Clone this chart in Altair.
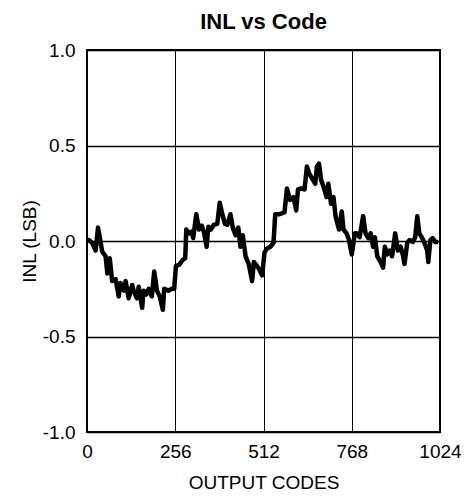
import altair as alt
import pandas as pd

codes = [0, 6, 15, 25, 32, 40, 44, 54, 59, 66, 73, 83, 92, 97, 107, 112, 121, 131, 136, 145,
         150, 160, 164, 172, 179, 188, 195, 203, 211, 220, 224, 236, 246, 253, 258, 267, 277,
         285, 288, 296, 304, 308, 317, 325, 333, 340, 347, 352, 359, 368, 378, 385, 392, 400,
         407, 416, 423, 431, 439, 445, 452, 460, 469, 479, 484, 493, 500, 508, 515, 522, 532,
         541, 546, 556, 565, 573, 580, 589, 599, 607, 612, 621, 631, 638, 644, 652, 662, 667,
         673, 679, 686, 695, 700, 708, 715, 721, 731, 739, 744, 753, 760, 768, 777, 782, 791,
         801, 808, 816, 823, 830, 835, 842, 852, 859, 864, 871, 878, 885, 894, 902, 910, 917,
         921, 929, 936, 945, 952, 958, 964, 971, 979, 987, 990, 996, 1003, 1010, 1019]
inl = [0.0, 0.005, -0.01, -0.05, 0.07, -0.01, -0.055, -0.08, -0.17, -0.09, -0.21, -0.20,
       -0.29, -0.22, -0.26, -0.21, -0.30, -0.23, -0.265, -0.30, -0.24, -0.35, -0.26, -0.28,
       -0.25, -0.29, -0.16, -0.26, -0.29, -0.36, -0.25, -0.26, -0.25, -0.25, -0.13, -0.125,
       -0.10, -0.09, 0.06, 0.04, 0.05, 0.015, 0.14, 0.06, 0.08, 0.04, -0.03, 0.075, 0.06,
       0.085, 0.09, 0.20, 0.145, 0.09, 0.085, 0.14, 0.07, 0.03, 0.07, -0.03, 0.03, -0.08,
       -0.12, -0.21, -0.11, -0.13, -0.15, -0.18, -0.06, -0.04, -0.03, -0.01, 0.14, 0.14,
       0.145, 0.15, 0.275, 0.215, 0.23, 0.16, 0.27, 0.275, 0.27, 0.39, 0.355, 0.33, 0.30,
       0.39, 0.405, 0.32, 0.285, 0.23, 0.30, 0.195, 0.23, 0.13, 0.06, 0.155, 0.06, 0.04,
       0.005, -0.07, 0.04, 0.04, 0.02, 0.13, 0.04, 0.015, 0.04, -0.03, 0.02, -0.08, -0.11,
       -0.14, -0.03, -0.07, -0.05, -0.08, 0.04, -0.05, -0.03, -0.08, -0.12, -0.01, 0.005,
       -0.005, 0.02, 0.13, 0.04, 0.02, -0.01, -0.05, -0.11, 0.005, 0.015, -0.005, -0.005]

x_ticks = [0, 256, 512, 768, 1024]
y_ticks = [-1.0, -0.5, 0.0, 0.5, 1.0]

df = pd.DataFrame({"code": codes, "inl": inl})

FONT = "Liberation Sans"

chart = alt.Chart(df).mark_line(color="black", strokeWidth=4.5, strokeJoin="round").encode(
    x=alt.X("code:Q",
            scale=alt.Scale(domain=[0, 1024], nice=False, zero=False),
            axis=alt.Axis(values=x_ticks, title="OUTPUT CODES", format="d",
                          ticks=False, tickSize=0, labelPadding=10, titlePadding=12,
                          domain=False, gridColor="black", gridWidth=1, gridOpacity=1,
                          labelFont=FONT, labelFontSize=19, labelColor="black",
                          titleFont=FONT, titleFontSize=19, titleFontWeight="normal",
                          titleColor="black", labelFlush=False)),
    y=alt.Y("inl:Q",
            scale=alt.Scale(domain=[-1, 1], nice=False, zero=False),
            axis=alt.Axis(values=y_ticks, title="INL (LSB)",
                          labelExpr="(datum.value < 0 ? '-' : '') + format(abs(datum.value), '.1f')",
                          ticks=False, tickSize=0, labelPadding=12,
                          titleX=-58, titleY=191, titleAngle=270, titleBaseline="middle",
                          titleAlign="center",
                          domain=False, gridColor="black", gridWidth=1.3, gridOpacity=1,
                          labelFont=FONT, labelFontSize=19, labelColor="black",
                          titleFont=FONT, titleFontSize=19, titleFontWeight="normal",
                          titleColor="black", labelFlush=False)),
).properties(
    width=353,
    height=382,
    title=alt.TitleParams("INL vs Code", font=FONT, fontSize=22, fontWeight="bold",
                          color="black", anchor="middle", frame="group", offset=7),
    autosize=alt.AutoSizeParams(type="none"),
    padding={"left": 79, "top": 42, "right": 21, "bottom": 60},
).configure_view(stroke="black", strokeWidth=2)

chart.save("out.html", embed_options={"renderer": "svg", "actions": False})
